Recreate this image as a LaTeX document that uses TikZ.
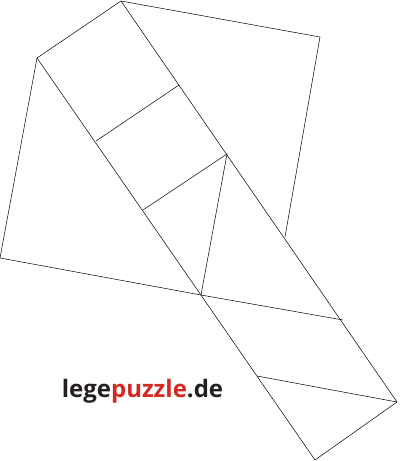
\documentclass[tikz,border=0pt]{standalone}
\usepackage{fontspec}
\setmainfont{Open Sans}
\usepackage{xcolor}
\definecolor{logodark}{rgb}{0.14, 0.12, 0.13}
\definecolor{logored}{rgb}{0.83, 0.16, 0.13}
\begin{document}
\begin{tikzpicture}[x=1pt, y=-1pt, line width=0.5pt, line join=miter]
    \useasboundingbox (0,0) rectangle (400,461);

    % Corners of the pieces
    \coordinate (top) at (121,1);
    \coordinate (sqR) at (320,37);
    \coordinate (sqB) at (285,237);
    \coordinate (kite) at (37,58);
    \coordinate (left) at (0,258);
    \coordinate (mid) at (201,295);
    \coordinate (endL) at (315,460);
    \coordinate (endR) at (397,402);

    % Points along the strip
    \coordinate (l1) at (96,141);
    \coordinate (l2) at (143,210);
    \coordinate (l3) at (257,376);
    \coordinate (r1) at (179,85);
    \coordinate (r2) at (227,154);
    \coordinate (r3) at (343,320);

    % Square
    \draw (top) -- (sqR) -- (sqB);

    % Left triangle
    \draw (top) -- (kite) -- (left) -- (mid);

    % Strip edges
    \draw (kite) -- (endL) -- (endR) -- (top);

    % Cuts across the strip
    \draw (l1) -- (r1);
    \draw (l2) -- (r2) -- (mid);
    \draw (mid) -- (r3);
    \draw (l3) -- (endR);

    % Logo
    \node[font=\fontsize{24}{24}\selectfont\bfseries, anchor=base] (logo) at (142.5,397)
        {\textcolor{logodark}{lege}\textcolor{logored}{puzzle}\textcolor{logodark}{.de}};
\end{tikzpicture}
\end{document}
